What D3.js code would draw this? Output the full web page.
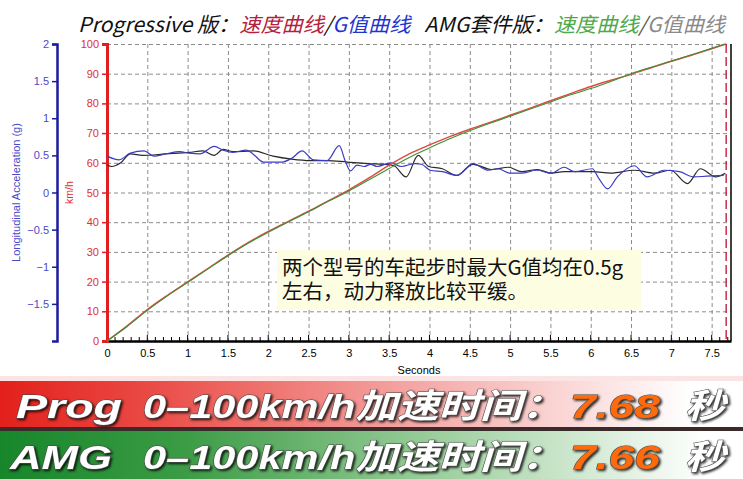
<!DOCTYPE html>
<html><head><meta charset="utf-8">
<script src="https://cdn.jsdelivr.net/npm/d3@7"></script>
<style>
html,body{margin:0;padding:0;background:#fff;}
svg{display:block;}
</style></head>
<body>
<svg id="chart" width="743" height="479"></svg>
<script>
// ---------- data ----------
const speedTime = [0,0.25,0.5,0.75,1,1.25,1.5,1.75,2,2.25,2.5,2.75,3,3.25,3.5,3.75,4,4.25,4.5,4.75,5,5.25,5.5,5.75,6,6.25,6.5,6.75,7,7.25,7.5,7.68];
const progSpeed = [0,5.1,10.6,15.4,19.9,24.4,28.9,33.1,36.9,40.3,43.7,47.3,50.9,54.9,59.2,63.0,66.0,68.8,71.3,73.6,76.0,78.4,80.9,83.3,85.7,87.8,89.8,92.0,94.2,96.2,98.4,100];
const amgSpeedTime = [0,0.25,0.5,0.75,1,1.25,1.5,1.75,2,2.25,2.5,2.75,3,3.25,3.5,3.75,4,4.25,4.5,4.75,5,5.25,5.5,5.75,6,6.25,6.5,6.75,7,7.25,7.5,7.66];
const amgSpeed = [0,4.9,10.3,15.2,19.7,24.2,28.7,32.9,36.6,40.1,43.5,47.1,50.5,54.3,58.1,61.8,65.0,68.1,70.8,73.3,75.7,78.1,80.5,82.9,85.0,87.4,90.0,92.2,94.3,96.4,98.6,100];

const progGTime = [0,0.15,0.29,0.46,0.58,0.73,0.9,1.02,1.15,1.33,1.44,1.56,1.73,1.81,1.94,2.17,2.29,2.42,2.56,2.73,2.88,2.96,3.02,3.1,3.19,3.27,3.35,3.52,3.65,3.82,3.9,4.01,4.16,4.34,4.54,4.73,4.85,5.0,5.14,5.33,5.51,5.67,5.8,6.02,6.1,6.21,6.33,6.54,6.7,6.91,7.1,7.28,7.44,7.65];
const progG = [0.49,0.44,0.53,0.56,0.49,0.52,0.55,0.53,0.52,0.62,0.57,0.54,0.57,0.52,0.41,0.41,0.46,0.56,0.44,0.43,0.63,0.41,0.29,0.37,0.35,0.38,0.35,0.40,0.35,0.39,0.38,0.30,0.28,0.23,0.39,0.30,0.32,0.26,0.26,0.30,0.26,0.34,0.28,0.32,0.19,0.05,0.21,0.36,0.21,0.30,0.28,0.21,0.22,0.23];
const amgGTime = [0,0.06,0.17,0.29,0.44,0.73,1.02,1.19,1.33,1.44,1.56,1.81,2.06,2.29,2.52,2.73,2.98,3.23,3.44,3.56,3.71,3.86,3.99,4.16,4.34,4.54,4.77,4.98,5.14,5.34,5.51,5.67,6.02,6.25,6.54,6.79,6.99,7.2,7.36,7.55,7.67];
const amgG = [0.37,0.35,0.40,0.52,0.50,0.52,0.54,0.56,0.50,0.58,0.55,0.56,0.49,0.45,0.43,0.43,0.41,0.39,0.38,0.36,0.21,0.50,0.35,0.32,0.23,0.38,0.31,0.34,0.28,0.31,0.26,0.28,0.28,0.26,0.30,0.26,0.30,0.12,0.32,0.21,0.26];

const timeTicks = [0,0.5,1,1.5,2,2.5,3,3.5,4,4.5,5,5.5,6,6.5,7,7.5];
const speedTicks = [0,10,20,30,40,50,60,70,80,90,100];
const gTicks = [-1.5,-1,-0.5,0,0.5,1,1.5,2];
const progTime = 7.68, amgTime = 7.66;

const titleParts = [
  {t:"Progressive 版：", c:"#111"},
  {t:"速度曲线", c:"#b5213c"},
  {t:"/", c:"#111"},
  {t:"G值曲线", c:"#1f35d0"},
  {t:"   AMG套件版：", c:"#111"},
  {t:"速度曲线", c:"#4fa84a"},
  {t:"/", c:"#555"},
  {t:"G值曲线", c:"#8a8a8a"}
];
const noteLines = ["两个型号的车起步时最大G值均在0.5g", "左右，动力释放比较平缓。"];
const banners = [
  {name:"Prog", label:"0–100km/h加速时间：", value:"7.68", unit:"秒"},
  {name:"AMG", label:"0–100km/h加速时间：", value:"7.66", unit:"秒"}
];

// ---------- scales ----------
const svg = d3.select("#chart");
const X0 = 107, X1 = 731, YT = 44, YB = 341;
const x = d3.scaleLinear().domain([0, 7.74]).range([X0, X1]);
const yS = d3.scaleLinear().domain([0, 100]).range([YB, YT]);
const yG = d3.scaleLinear().domain([-2, 2]).range([YB, YT]);

const defs = svg.append("defs");
const gr = defs.append("linearGradient").attr("id","gRed").attr("x1","0").attr("x2","1").attr("y1","0").attr("y2","0");
gr.append("stop").attr("offset","0").attr("stop-color","#e3201b");
gr.append("stop").attr("offset","0.2").attr("stop-color","#ea4a45");
gr.append("stop").attr("offset","0.55").attr("stop-color","#f4a5a3");
gr.append("stop").attr("offset","0.93").attr("stop-color","#ffffff");
const gg = defs.append("linearGradient").attr("id","gGreen").attr("x1","0").attr("x2","1").attr("y1","0").attr("y2","0");
gg.append("stop").attr("offset","0").attr("stop-color","#17862a");
gg.append("stop").attr("offset","0.25").attr("stop-color","#3c9c46");
gg.append("stop").attr("offset","0.6").attr("stop-color","#9fd0a0");
gg.append("stop").attr("offset","0.95").attr("stop-color","#ffffff");
const fl = defs.append("filter").attr("id","shadow").attr("x","-5%").attr("y","-20%").attr("width","110%").attr("height","150%");
fl.append("feDropShadow").attr("dx",1.5).attr("dy",1.5).attr("stdDeviation",0.8).attr("flood-color","#000").attr("flood-opacity",0.85);

// ---------- grid ----------
const grid = svg.append("g").attr("stroke","#8c8c8c").attr("stroke-width",1).attr("stroke-dasharray","4,3");
grid.selectAll("line.v").data(timeTicks.filter(d=>d>0)).join("line")
  .attr("x1",d=>x(d)+0.5).attr("x2",d=>x(d)+0.5).attr("y1",YT).attr("y2",YB);
grid.selectAll("line.h").data(speedTicks.filter(d=>d>0)).join("line")
  .attr("x1",X0).attr("x2",X1).attr("y1",d=>yS(d)+0.5).attr("y2",d=>yS(d)+0.5);

// ---------- annotation ----------
svg.append("rect").attr("x",277).attr("y",250).attr("width",364).attr("height",60).attr("fill","#fdfde2");
const note = svg.append("text").attr("font-family","'Noto Sans CJK SC', sans-serif").attr("font-size",20.5).attr("fill","#111");
note.selectAll("tspan").data(noteLines).join("tspan")
  .attr("x",282).attr("y",(d,i)=>275+i*24).text(d=>d);

// ---------- x axis ----------
const xAxis = d3.axisBottom(x).tickValues(timeTicks).tickSize(0).tickPadding(8).tickFormat(d3.format("~g"));
const gx = svg.append("g").attr("transform",`translate(0,${YB})`).call(xAxis);
gx.select(".domain").attr("stroke","#000").attr("stroke-width",2.5);
gx.selectAll("text").attr("font-family","'Liberation Sans', Arial, sans-serif").attr("font-size",11).attr("fill","#000");
const minor = d3.range(0, 78).map(i=>i/10);
svg.append("g").selectAll("line").data(minor).join("line")
  .attr("x1",d=>x(d)).attr("x2",d=>x(d)).attr("y1",YB).attr("y2",d=>(Math.round(d*10)%5===0)?YB-6:YB-4)
  .attr("stroke","#000").attr("stroke-width",1);
svg.append("text").attr("x",(X0+X1)/2).attr("y",374).attr("text-anchor","middle")
  .attr("font-family","'Liberation Sans', Arial, sans-serif").attr("font-size",11).text("Seconds");

// right border
svg.append("line").attr("x1",X1).attr("x2",X1).attr("y1",YT).attr("y2",YB).attr("stroke","#000").attr("stroke-width",1.5);

// ---------- speed axis ----------
const sAxis = d3.axisLeft(yS).tickValues(speedTicks).tickSize(5).tickPadding(3);
const gs = svg.append("g").attr("transform",`translate(${X0},0)`).call(sAxis);
gs.select(".domain").attr("stroke","#e02020").attr("stroke-width",3);
gs.selectAll(".tick line").attr("stroke","#e02020").attr("stroke-width",1.5);
gs.selectAll("text").attr("font-family","'Liberation Sans', Arial, sans-serif").attr("font-size",11).attr("fill","#e03030");
svg.append("text").attr("transform",`translate(73,${(YT+YB)/2}) rotate(-90)`).attr("text-anchor","middle")
  .attr("font-family","'Liberation Sans', Arial, sans-serif").attr("font-size",10.5).attr("fill","#e03030").text("km/h");

// ---------- G axis ----------
const gAxis = d3.axisLeft(yG).tickValues(gTicks).tickSize(5).tickPadding(3).tickFormat(d3.format("~g"));
const ga = svg.append("g").attr("transform",`translate(57,0)`).call(gAxis);
ga.select(".domain").attr("stroke","#1a1aa0").attr("stroke-width",2.5);
ga.selectAll(".tick line").attr("stroke","#1a1aa0").attr("stroke-width",1.5);
ga.selectAll("text").attr("font-family","'Liberation Sans', Arial, sans-serif").attr("font-size",11).attr("fill","#4a4ac8");
svg.append("text").attr("transform",`translate(20,${(YT+YB)/2}) rotate(-90)`).attr("text-anchor","middle")
  .attr("font-family","'Liberation Sans', Arial, sans-serif").attr("font-size",11).attr("fill","#4a4ac8").text("Longitudinal Acceleration (g)");

// ---------- curves ----------
const lineS = d3.line().x(d=>x(d[0])).y(d=>yS(d[1])).curve(d3.curveMonotoneX);
const lineG = d3.line().x(d=>x(d[0])).y(d=>yG(d[1])).curve(d3.curveMonotoneX);
svg.append("path").datum(d3.zip(amgGTime, amgG)).attr("d",lineG).attr("fill","none").attr("stroke","#2a2a2a").attr("stroke-width",1.2);
svg.append("path").datum(d3.zip(progGTime, progG)).attr("d",lineG).attr("fill","none").attr("stroke","#3b3bc4").attr("stroke-width",1.2);
svg.append("path").datum(d3.zip(speedTime, progSpeed)).attr("d",lineS).attr("fill","none").attr("stroke","#e04a40").attr("stroke-width",1.4);
svg.append("path").datum(d3.zip(amgSpeedTime, amgSpeed)).attr("d",lineS).attr("fill","none").attr("stroke","#3d8f3a").attr("stroke-width",1.1);

// finish marker
svg.append("line").attr("x1",x(progTime)).attr("x2",x(progTime)).attr("y1",YT).attr("y2",YB)
  .attr("stroke","#c0102a").attr("stroke-width",1.3).attr("stroke-dasharray","9,4");

// ---------- title ----------
const title = svg.append("text").attr("x",78).attr("y",32)
  .attr("font-family","'Noto Sans CJK SC', sans-serif").attr("font-size",20.5).attr("font-style","italic")
  .attr("xml:space","preserve").style("white-space","pre");
title.selectAll("tspan").data(titleParts).join("tspan").attr("fill",d=>d.c).text(d=>d.t);
title.attr("textLength", 647).attr("lengthAdjust","spacingAndGlyphs");

// ---------- banners ----------
svg.append("rect").attr("x",0).attr("y",376).attr("width",743).attr("height",6).attr("fill","#fbe4e4");
svg.append("rect").attr("x",0).attr("y",381).attr("width",743).attr("height",47).attr("fill","url(#gRed)");
svg.append("rect").attr("x",0).attr("y",427).attr("width",743).attr("height",4).attr("fill","#3a2a2a");
svg.append("rect").attr("x",0).attr("y",431).attr("width",743).attr("height",48).attr("fill","url(#gGreen)");

const bf = "'Liberation Sans', 'Noto Sans CJK SC', Arial, sans-serif";
banners.forEach((b,i)=>{
  const base = i===0 ? 418 : 469;
  const g = svg.append("g").attr("filter","url(#shadow)")
    .attr("font-family",bf).attr("font-weight","bold").attr("font-style","italic").attr("font-size",34);
  const addT = (txt, xx, w, fill) => g.append("text").attr("x",xx).attr("y",base).attr("fill",fill)
    .attr("stroke","#4a4a4a").attr("stroke-width",1).attr("paint-order","stroke")
    .attr("textLength",w).attr("lengthAdjust","spacingAndGlyphs").text(txt);
  addT(b.name, i===0?16:10, i===0?106:102, "#fff");
  addT(b.label, 143, 420, "#fff");
  addT(b.value, 570, 90, "#ff6a0a");
  addT(b.unit, 685, 40, "#fff");
});
</script>
</body></html>
